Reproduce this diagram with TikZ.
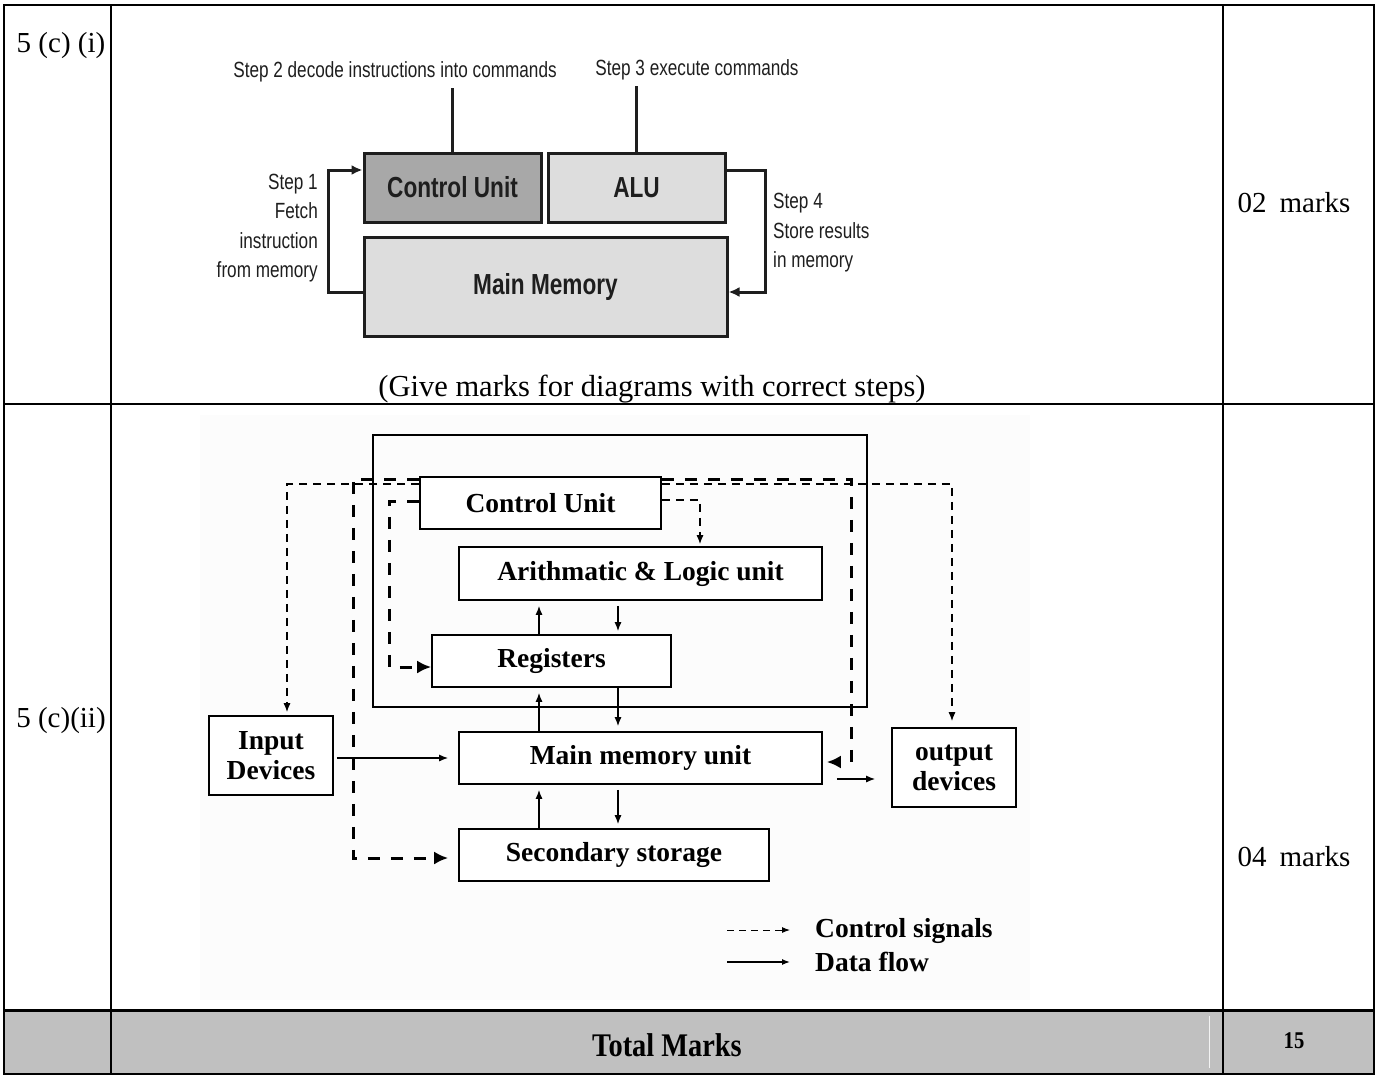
\documentclass[tikz,border=0pt]{standalone}
\usepackage{fontspec}
\setmainfont{Liberation Serif}
\newfontfamily\narrowsans[FakeStretch=0.78]{Liberation Sans}
\newfontfamily\narrowserif[FakeStretch=0.86]{Liberation Serif}
\usetikzlibrary{arrows.meta}

\definecolor{cufill}{HTML}{A8A8A8}
\definecolor{boxfill}{HTML}{DDDDDD}
\definecolor{inkdark}{HTML}{1E1E1E}
\definecolor{totalgray}{HTML}{C0C0C0}
\definecolor{panelbg}{HTML}{FCFCFC}

\tikzset{
  tabletext/.style={font=\fontsize{29}{32}\selectfont, inner sep=0pt},
  steptext/.style={font=\narrowsans\fontsize{22}{29.5}\selectfont, text=inkdark, inner sep=0pt},
  sansbox/.style={draw=inkdark, line width=3pt, inner sep=0pt, text=inkdark,
                  font=\narrowsans\bfseries\fontsize{29}{30}\selectfont},
  steparrow/.style={draw=inkdark, line width=3pt, -{Latex[length=11pt,width=10pt]}},
  unitbox/.style={draw, line width=1.6pt, inner sep=0pt, fill=white,
                  font=\bfseries\fontsize{27.5}{30}\selectfont, align=center},
  data/.style={line width=1.4pt, -{Latex[length=9pt,width=7pt]}},
  ctrlthin/.style={line width=1.3pt, dash pattern=on 8pt off 6pt, -{Latex[length=9pt,width=7pt]}},
  ctrlthick/.style={line width=3pt, dash pattern=on 12pt off 11pt, -{Latex[length=14pt,width=13pt]}},
  legendtext/.style={font=\bfseries\fontsize{27.5}{30}\selectfont, inner sep=0pt, anchor=west}
}

\begin{document}
\begin{tikzpicture}[x=1pt,y=-1pt]
\useasboundingbox (0,0) rectangle (1379,1076);

% ---------- table frame ----------
\fill[totalgray] (4,1010) rectangle (1374,1074);
\fill[panelbg] (200,415) rectangle (1030,1000);
\draw[line width=2pt] (4,5) rectangle (1374,1074);
\draw[line width=2pt] (111,5) -- (111,1074) (1223,5) -- (1223,1074) (4,404) -- (1374,404);
\draw[line width=3pt] (4,1010) -- (1374,1010);
\draw[line width=1pt, white!80!totalgray] (1209,1016) -- (1209,1068);

\node[tabletext] (q1) at (61,46) {5 (c) (i)};
\node[tabletext] (q2) at (61,721) {5 (c)(ii)};
\node[tabletext] (m1) at (1294,203) {02\hspace{0.45em}marks};
\node[tabletext] (m2) at (1294,857) {04\hspace{0.45em}marks};
\node[tabletext, font=\fontsize{30.5}{32}\selectfont] (note) at (652,389) {(Give marks for diagrams with correct steps)};
\node[font=\narrowserif\bfseries\fontsize{33}{34}\selectfont, inner sep=0pt] (tot) at (667,1045) {Total Marks};
\node[font=\narrowserif\bfseries\fontsize{24}{26}\selectfont, inner sep=0pt] (tval) at (1294,1041) {15};

% ---------- instruction cycle ----------
\node[sansbox, fill=cufill, minimum width=177pt, minimum height=69pt] (cu1) at (452.5,187.5) {Control Unit};
\node[sansbox, fill=boxfill, minimum width=177pt, minimum height=69pt] (alu1) at (636.5,187.5) {ALU};
\node[sansbox, fill=boxfill, minimum width=363pt, minimum height=99pt] (mm1) at (545.5,286.5) {Main Memory};

\node[steptext, inner ysep=6pt] (s2) at (395,72) {Step 2 decode instructions into commands};
\node[steptext, inner ysep=6pt] (s3) at (697,70) {Step 3 execute commands};
\draw[draw=inkdark, line width=2.2pt] (cu1.north) -- (cu1.north |- s2.south);
\draw[draw=inkdark, line width=2.2pt] (alu1.north) -- (alu1.north |- s3.south);

\node[steptext, align=right, anchor=east] (s1) at (318,228) {Step 1\\Fetch\\instruction\\from memory};
\node[steptext, align=left, anchor=west] (s4) at (773,233) {Step 4\\Store results\\in memory};

\coordinate (lvlA) at (0,170);
\coordinate (lvlB) at (0,292);
\coordinate (colL) at (328,0);
\coordinate (colR) at (765,0);
\draw[steparrow] (mm1.west |- lvlB) -- (colL |- lvlB) -- (colL |- lvlA) -- (cu1.west |- lvlA);
\draw[steparrow] (alu1.east |- lvlA) -- (colR |- lvlA) -- (colR |- lvlB) -- (mm1.east |- lvlB);

% ---------- computer organisation ----------
\draw[line width=2pt] (373,435) rectangle (867,707);

\node[unitbox, minimum width=241pt, minimum height=52pt] (cu2) at (540.5,503) {Control Unit};
\node[unitbox, minimum width=363pt, minimum height=53pt] (alu2) at (640.5,573.5) {Arithmatic \& Logic unit};
\node[unitbox, minimum width=239pt, minimum height=52pt] (reg) at (551.5,661) {Registers};
\node[unitbox, minimum width=363pt, minimum height=52pt] (mmu) at (640.5,758) {Main memory unit};
\node[unitbox, minimum width=310pt, minimum height=52pt] (sec) at (614,855) {Secondary storage};
\node[unitbox, minimum width=124pt, minimum height=79pt] (inp) at (271,755.5) {Input\\Devices};
\node[unitbox, minimum width=124pt, minimum height=79pt] (outp) at (954,767.5) {output\\devices};

% data paths
\coordinate (up) at (539,0);
\coordinate (dn) at (618,0);
\draw[data, shorten >=5pt] (up |- reg.north) -- (up |- alu2.south);
\draw[data, shorten <=5pt, shorten >=3pt] (dn |- alu2.south) -- (dn |- reg.north);
\draw[data, shorten >=5pt] (up |- mmu.north) -- (up |- reg.south);
\draw[data, shorten >=5pt] (dn |- reg.south) -- (dn |- mmu.north);
\draw[data, shorten >=5pt] (up |- sec.north) -- (up |- mmu.south);
\draw[data, shorten <=5pt, shorten >=4pt] (dn |- mmu.south) -- (dn |- sec.north);
\draw[data, shorten <=3pt, shorten >=10pt] (inp.east |- mmu.west) -- (mmu.west);
\coordinate (outlvl) at (0,779);
\draw[data, shorten <=14pt, shorten >=16pt] (mmu.east |- outlvl) -- (outp.west |- outlvl);

% control signals
\coordinate (yA) at (0,484);
\coordinate (yC) at (0,479);
\coordinate (yD) at (0,501);
\coordinate (yF) at (0,500);
\coordinate (xIn) at (287,0);
\coordinate (xOut) at (952,0);
\coordinate (xSec) at (353,0);
\coordinate (xReg) at (389,0);
\coordinate (xMem) at (851,0);
\coordinate (xAlu) at (700,0);
\coordinate (ySec) at (0,858);
\coordinate (yReg) at (0,667);
\coordinate (yMem) at (0,762);

\draw[ctrlthin, shorten >=3pt] (cu2.west |- yA) -- (xIn |- yA) -- (xIn |- inp.north);
\draw[ctrlthin, shorten >=6pt] (cu2.east |- yA) -- (xOut |- yA) -- (xOut |- outp.north);
\draw[ctrlthin, shorten >=2pt] (cu2.east |- yF) -- (xAlu |- yF) -- (xAlu |- alu2.north);
\draw[ctrlthick, shorten >=10pt] (cu2.west |- yC) -- (xSec |- yC) -- (xSec |- ySec) -- (sec.west |- ySec);
\draw[ctrlthick] (cu2.west |- yD) -- (xReg |- yD) -- (xReg |- yReg) -- (reg.west |- yReg);
\draw[ctrlthick, shorten >=4pt] (cu2.east |- yC) -- (xMem |- yC) -- (xMem |- yMem) -- (mmu.east |- yMem);

% legend
\coordinate (lg1s) at (727,930);
\coordinate (lg1e) at (790,930);
\coordinate (lg2s) at (727,962);
\coordinate (lg2e) at (790,962);
\draw[line width=1pt, dash pattern=on 7pt off 5pt, -{Latex[length=8pt,width=6pt]}] (lg1s) -- (lg1e);
\draw[line width=1.3pt, -{Latex[length=8pt,width=6pt]}] (lg2s) -- (lg2e);
\node[legendtext] (lgc) at (815,931) {Control signals};
\node[legendtext] (lgd) at (815,962) {Data flow};
\end{tikzpicture}
\end{document}
